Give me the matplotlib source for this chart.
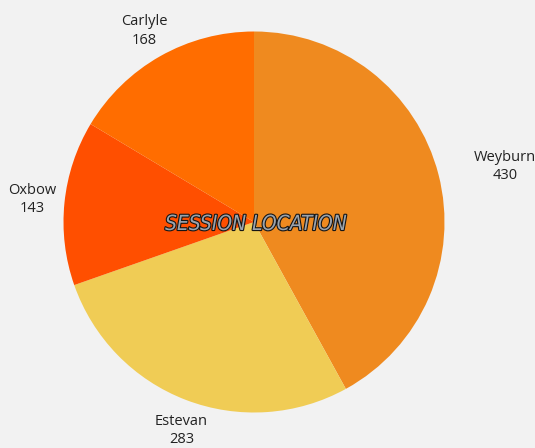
import matplotlib.pyplot as plt
import matplotlib.patheffects as pe

locations = ["Weyburn", "Estevan", "Oxbow", "Carlyle"]
sessions = [430, 283, 143, 168]
colors = ["#EF8A1F", "#F0CC55", "#FF4F00", "#FF6D00"]

plt.rcParams['font.family'] = ['Open Sans', 'DejaVu Sans']

fig = plt.figure(figsize=(5.35, 4.48), dpi=100)
fig.patch.set_facecolor("#F2F2F2")
ax = fig.add_axes([0, 0, 1, 1])
ax.set_facecolor("#F2F2F2")

labels = ["{}\n{}".format(l, v) for l, v in zip(locations, sessions)]
wedges, texts = ax.pie(sessions, labels=labels, colors=colors, startangle=90,
                       counterclock=False, center=(254, 226), radius=190.5,
                       labeldistance=1.17,
                       textprops=dict(fontsize=10.5, color="#222222",
                                      ha="center", va="center",
                                      linespacing=1.3),
                       frame=True)
for t in texts:
    t.set_horizontalalignment("center")
# nudge labels to where they sit in the original
shifts = [(5, -8), (7, 0), (0, 0), (0, -3)]
for t, (dx, dy) in zip(texts, shifts):
    x, y = t.get_position()
    if t is texts[0]:
        x, y = 254 + (x - 254) * 1.14, 226 + (y - 226) * 1.14
    t.set_position((x + dx, y + dy))

ax.text(256, 224, "SESSION LOCATION", ha="center", va="center",
        fontsize=15, style="italic", fontstretch="condensed",
        fontfamily="DejaVu Sans", fontweight="light",
        color="#9AA3AD",
        path_effects=[pe.withStroke(linewidth=1.6, foreground="#151515")])

ax.set_xlim(0, 535)
ax.set_ylim(0, 448)
ax.set_aspect("equal")
ax.axis("off")

fig.savefig("out.png", dpi=100, facecolor=fig.get_facecolor())
